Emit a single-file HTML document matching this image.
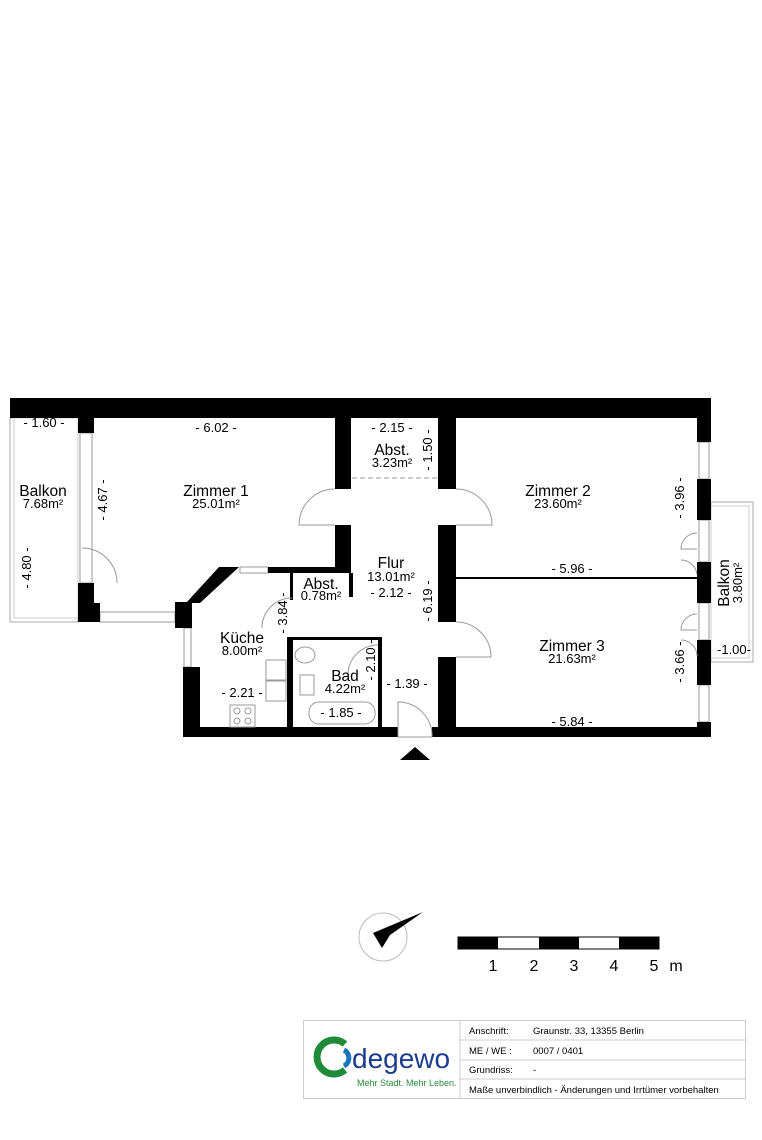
<!DOCTYPE html>
<html><head><meta charset="utf-8"><style>
html,body{margin:0;padding:0;background:#fff}
svg{display:block}
text{font-family:"Liberation Sans",sans-serif;fill:#000}
.n{font-size:15.5px}.a{font-size:13px}.d{font-size:13px}
</style></head><body>
<svg width="762" height="1140" viewBox="0 0 762 1140" xmlns="http://www.w3.org/2000/svg">
<rect x="10" y="418" width="68" height="204" fill="none" stroke="#aaa" stroke-width="1"/>
<rect x="14" y="418" width="64" height="200" fill="none" stroke="#ccc" stroke-width="1"/>
<rect x="711" y="502" width="42" height="160" fill="none" stroke="#aaa" stroke-width="1"/>
<rect x="711" y="506" width="38" height="152" fill="none" stroke="#ccc" stroke-width="1"/>
<g fill="none" stroke="#999" stroke-width="1">
<rect x="80" y="433" width="12" height="150"/>
<rect x="100" y="612" width="75" height="10"/>
<rect x="240" y="567" width="28" height="6"/>
<rect x="184" y="628" width="7" height="39"/>
<rect x="699" y="442" width="10" height="37"/>
<rect x="699" y="685" width="10" height="37"/>
<rect x="699" y="520" width="10" height="42"/>
<rect x="699" y="603" width="10" height="37"/>
<line x1="352" y1="478" x2="437" y2="478" stroke-dasharray="5,3"/>
</g>
<g fill="#000">
<rect x="10" y="398" width="701" height="20"/>
<rect x="78" y="418" width="16" height="15"/>
<polygon points="78,583 94,583 94,603 100,603 100,622 78,622"/>
<rect x="175" y="602" width="17" height="26"/>
<polygon points="219,567 239,567 200,603 186,603"/>
<rect x="268" y="567" width="69" height="6"/>
<rect x="335" y="418" width="16" height="71"/>
<rect x="335" y="525" width="16" height="48"/>
<rect x="349" y="573" width="4" height="24"/>
<rect x="290" y="573" width="3" height="27"/>
<rect x="183" y="667" width="17" height="70"/>
<rect x="183" y="727" width="215" height="10"/>
<rect x="432" y="727" width="279" height="10"/>
<rect x="287" y="637" width="6" height="90"/>
<rect x="290" y="637" width="92" height="3"/>
<rect x="378" y="637" width="4" height="90"/>
<rect x="438" y="418" width="18" height="71"/>
<rect x="438" y="525" width="18" height="97"/>
<rect x="438" y="657" width="18" height="70"/>
<rect x="455" y="577" width="242" height="2"/>
<rect x="697" y="418" width="14" height="24"/>
<rect x="697" y="479" width="14" height="41"/>
<rect x="697" y="562" width="14" height="41"/>
<rect x="697" y="640" width="14" height="45"/>
<rect x="697" y="722" width="14" height="15"/>
<polygon points="400,760 430,760 415,747"/>
</g>
<g fill="none" stroke="#999" stroke-width="1">
<path d="M335,489 A36,36 0 0 0 299,525 L335,525"/>
<path d="M456,489 A36,36 0 0 1 492,525 L456,525"/>
<path d="M456,622 A35,35 0 0 1 491,657 L456,657"/>
<path d="M82,548 A35,35 0 0 1 117,583"/>
<path d="M292,598 A30,30 0 0 0 262,628"/>
<path d="M378,645 A30,30 0 0 0 348,675"/>
<path d="M398,737 L398,702 A34,34 0 0 1 432,737 Z"/>
<path d="M697,533 A16,16 0 0 0 681,549 L697,549"/>
<path d="M697,575 A16,16 0 0 0 681,560"/>
<path d="M697,614 A16,16 0 0 0 681,630 L697,630"/>
<path d="M697,656 A16,16 0 0 0 681,640"/>
<rect x="266" y="660" width="20" height="20"/>
<rect x="266" y="681" width="20" height="20"/>
<rect x="230" y="705" width="25" height="22"/>
<circle cx="237" cy="711" r="3"/><circle cx="248" cy="711" r="3"/>
<circle cx="237" cy="721" r="3"/><circle cx="248" cy="721" r="3"/>
<ellipse cx="305" cy="655" rx="10" ry="8"/>
<rect x="300" y="675" width="14" height="20"/>
<rect x="309" y="702" width="66" height="22" rx="10"/>
</g>
<g text-anchor="middle">
<text class="n" x="43" y="496">Balkon</text><text class="a" x="43" y="508">7.68m²</text>
<text class="n" x="216" y="496">Zimmer 1</text><text class="a" x="216" y="508">25.01m²</text>
<text class="n" x="392" y="455">Abst.</text><text class="a" x="392" y="467">3.23m²</text>
<text class="n" x="558" y="496">Zimmer 2</text><text class="a" x="558" y="508">23.60m²</text>
<text class="n" x="391" y="568">Flur</text><text class="a" x="391" y="581">13.01m²</text>
<text class="n" x="321" y="589">Abst.</text><text class="a" x="321" y="600">0.78m²</text>
<text class="n" x="242" y="643">Küche</text><text class="a" x="242" y="655">8.00m²</text>
<text class="n" x="345" y="681">Bad</text><text class="a" x="345" y="693">4.22m²</text>
<text class="n" x="572" y="651">Zimmer 3</text><text class="a" x="572" y="663">21.63m²</text>
<text class="d" x="44" y="427">- 1.60 -</text>
<text class="d" x="216" y="432">- 6.02 -</text>
<text class="d" x="392" y="432">- 2.15 -</text>
<text class="d" x="391" y="597">- 2.12 -</text>
<text class="d" x="572" y="573">- 5.96 -</text>
<text class="d" x="572" y="726">- 5.84 -</text>
<text class="d" x="242" y="697">- 2.21 -</text>
<text class="d" x="341" y="717">- 1.85 -</text>
<text class="d" x="407" y="688">- 1.39 -</text>
<text class="d" x="734" y="654">-1.00-</text>
<text class="d" transform="translate(31,568) rotate(-90)">- 4.80 -</text>
<text class="d" transform="translate(107,500) rotate(-90)">- 4.67 -</text>
<text class="d" transform="translate(432,450) rotate(-90)">- 1.50 -</text>
<text class="d" transform="translate(432,601) rotate(-90)">- 6.19 -</text>
<text class="d" transform="translate(287,613) rotate(-90)">- 3.84 -</text>
<text class="d" transform="translate(375,660) rotate(-90)">- 2.10 -</text>
<text class="d" transform="translate(684,498) rotate(-90)">- 3.96 -</text>
<text class="d" transform="translate(684,662) rotate(-90)">- 3.66 -</text>
<text class="n" transform="translate(729,583) rotate(-90)">Balkon</text>
<text class="a" transform="translate(742,583) rotate(-90)">3.80m²</text>
</g>
<circle cx="383" cy="937" r="24" fill="none" stroke="#bbb" stroke-width="1"/>
<polygon points="373,933 423,912 390,935 382,948" fill="#000"/>
<rect x="458" y="937" width="201" height="12" fill="#fff" stroke="#000" stroke-width="1"/>
<rect x="458" y="937" width="40" height="12" fill="#000"/>
<rect x="539" y="937" width="40" height="12" fill="#000"/>
<rect x="619" y="937" width="40" height="12" fill="#000"/>
<g font-size="16" text-anchor="middle">
<text x="493" y="971">1</text><text x="534" y="971">2</text><text x="574" y="971">3</text><text x="614" y="971">4</text><text x="654" y="971">5</text><text x="676" y="971">m</text>
</g>
<g fill="none" stroke="#ccc" stroke-width="1">
<rect x="303.5" y="1020.5" width="442" height="78"/>
<line x1="460" y1="1020" x2="460" y2="1098"/>
<line x1="460" y1="1040" x2="745" y2="1040"/>
<line x1="460" y1="1060" x2="745" y2="1060"/>
<line x1="460" y1="1079" x2="745" y2="1079"/>
</g>
<path d="M345,1044 A17,17 0 1 0 345,1070" fill="none" stroke="#1e8a3a" stroke-width="7"/>
<path d="M344,1050 A9,9 0 0 1 344,1066" fill="none" stroke="#1a75c0" stroke-width="5"/>
<text x="352" y="1068" font-size="28" style="fill:#1b3c8c">degewo</text>
<text x="357" y="1086" font-size="9" style="fill:#2a8a3a">Mehr Stadt. Mehr Leben.</text>
<g font-size="9.5">
<text x="469" y="1034">Anschrift:</text><text x="533" y="1034">Graunstr. 33, 13355 Berlin</text>
<text x="469" y="1054">ME / WE :</text><text x="533" y="1054">0007 / 0401</text>
<text x="469" y="1073">Grundriss:</text><text x="533" y="1073">-</text>
<text x="469" y="1093">Maße unverbindlich - Änderungen und Irrtümer vorbehalten</text>
</g>
</svg>
</body></html>
